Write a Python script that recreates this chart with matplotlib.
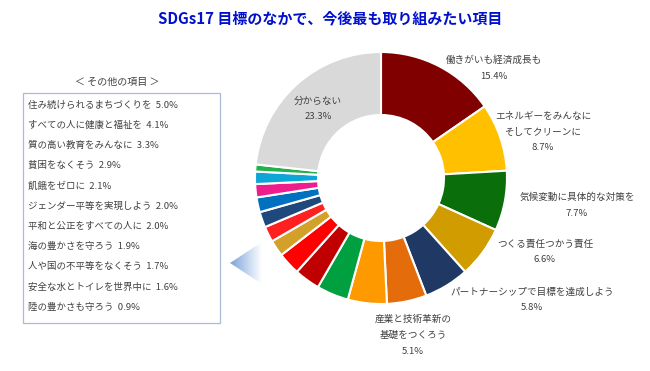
import numpy as np
import matplotlib
matplotlib.use("Agg")
import matplotlib.pyplot as plt
from matplotlib.patches import Polygon, Rectangle
from matplotlib.colors import LinearSegmentedColormap

plt.rcParams['font.family'] = ['Noto Sans CJK JP', 'DejaVu Sans']

# donut slices, clockwise from top
names = ["働きがいも経済成長も", "エネルギーをみんなに\nそしてクリーンに", "気候変動に具体的な対策を",
         "つくる責任つかう責任", "パートナーシップで目標を達成しよう", "産業と技術革新の\n基礎をつくろう",
         "住み続けられるまちづくりを", "すべての人に健康と福祉を", "質の高い教育をみんなに",
         "貧困をなくそう", "飢餓をゼロに", "ジェンダー平等を実現しよう", "平和と公正をすべての人に",
         "海の豊かさを守ろう", "人や国の不平等をなくそう", "安全な水とトイレを世界中に",
         "陸の豊かさも守ろう", "分からない"]
values = [15.4, 8.7, 7.7, 6.6, 5.8, 5.1, 5.0, 4.1, 3.3, 2.9, 2.1, 2.0, 2.0, 1.9, 1.7, 1.6, 0.9, 23.3]
colors = ["#800000", "#ffc000", "#0a6e0a", "#d09c00", "#1f3864", "#e46c0a", "#ff9900",
          "#00a040", "#c00000", "#ff0000", "#d3a029", "#ff2020", "#1f497d", "#0070c0",
          "#ee1c8c", "#0ea5d7", "#22b14c", "#d9d9d9"]
# which slices get an outside label (rest go in the side box)
labelled = [0, 1, 2, 3, 4, 5, 17]
boxed = list(range(6, 17))

# label anchor positions in pixels (figure 650x371, y from top)
label_pos = {0: (494, 68), 1: (543, 132), 2: (577, 205), 3: (545, 252),
             4: (532, 300), 5: (413, 335), 17: (318, 109)}

fig = plt.figure(figsize=(6.5, 3.71), dpi=100)

cx, cy, r = 381, 178, 126
ax = fig.add_axes([(cx - r) / 650, (371 - cy - r) / 371, 2 * r / 650, 2 * r / 371])
ax.pie(values, colors=colors, startangle=90, counterclock=False, radius=1,
       wedgeprops=dict(width=0.5, edgecolor="white", linewidth=1.5))
ax.set_xlim(-1, 1)
ax.set_ylim(-1, 1)
ax.set_aspect("auto")

# overlay in pixel coordinates for text, box and pointer
bg = fig.add_axes([0, 0, 1, 1])
bg.set_xlim(0, 650)
bg.set_ylim(371, 0)
bg.axis("off")
bg.set_zorder(3)

txt_color = "#404040"
for i in labelled:
    x, y = label_pos[i]
    bg.text(x, y, f"{names[i]}\n{values[i]:.1f}%", ha="center", va="center",
            fontsize=6.9, color=txt_color, linespacing=1.95)

bg.text(330, 18, "SDGs17 目標のなかで、今後最も取り組みたい項目", ha="center", va="center",
        fontsize=10.8, fontweight="bold", color="#0010cc")

# side box with the smaller items
bg.add_patch(Rectangle((23, 93), 197, 230, facecolor="white", edgecolor="#a8bcd4", linewidth=0.9))
bg.text(117, 82, "＜ その他の項目 ＞", ha="center", va="center", fontsize=7.2, color=txt_color)
for k, i in enumerate(boxed):
    bg.text(28, 105 + k * 20.2, f"{names[i]}  {values[i]:.1f}%", ha="left", va="center",
            fontsize=6.8, color=txt_color)

# gradient pointer triangle
tri = Polygon([(230, 263), (262, 242), (262, 284)], closed=True, facecolor="none", edgecolor="none")
bg.add_patch(tri)
cmap = LinearSegmentedColormap.from_list("ptr", ["#7aa3da", "#ffffff"])
grad = np.linspace(0, 1, 100).reshape(1, -1)
im = bg.imshow(grad, cmap=cmap, extent=(230, 262, 284, 242), aspect="auto", zorder=2)
im.set_clip_path(tri)

fig.savefig("out.png", dpi=100)
